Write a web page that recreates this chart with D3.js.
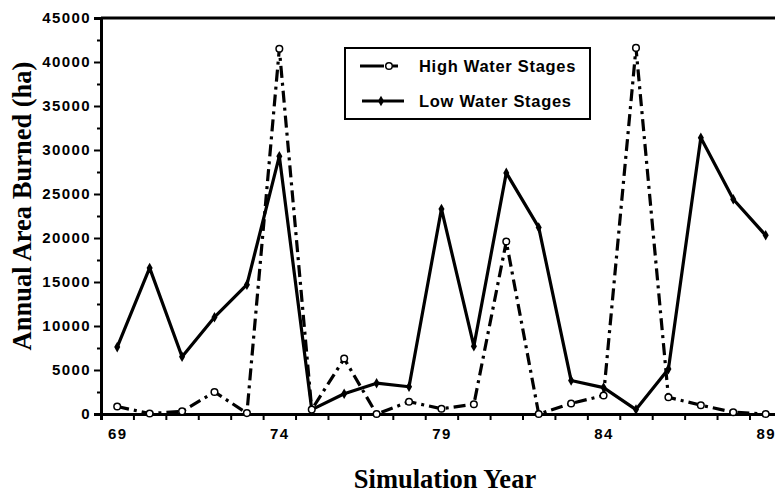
<!DOCTYPE html>
<html>
<head>
<meta charset="utf-8">
<script src="https://cdn.jsdelivr.net/npm/d3@7"></script>
<style>
  body { margin: 0; background: #fff; }
  svg { display: block; }
</style>
</head>
<body>
<div id="chart"></div>
<script>
// simulation years
var years = [69, 70, 71, 72, 73, 74, 75, 76, 77, 78, 79, 80, 81, 82, 83, 84, 85, 86, 87, 88, 89];
// annual area burned (ha)
var highWater = [850, 50, 300, 2500, 100, 41500, 500, 6300, 0, 1400, 600, 1100, 19600, 0, 1200, 2100, 41600, 1900, 1000, 200, 0];
var lowWater = [7600, 16600, 6500, 11000, 14700, 29300, 500, 2300, 3500, 3100, 23300, 7700, 27400, 21200, 3800, 3000, 500, 5100, 31400, 24400, 20300];
var yTicks = [0, 5000, 10000, 15000, 20000, 25000, 30000, 35000, 40000, 45000];
var xTickLabels = [69, 74, 79, 84, 89];

var chartW = 775, chartH = 492;
var plotLeft = 101, plotTop = 18, plotBottom = 414, plotRight = 790;
var sansFont = '"Liberation Sans", Arial, sans-serif';
var serifFont = '"Liberation Serif", "Times New Roman", serif';

var svg = d3.select('#chart').append('svg').attr('width', chartW).attr('height', chartH);

var x = d3.scaleLinear().domain([68.5, 89.75]).range([plotLeft, plotRight]);
var y = d3.scaleLinear().domain([0, 45000]).range([plotBottom, plotTop]);

// top frame
svg.append('line').attr('x1', plotLeft).attr('x2', chartW).attr('y1', plotTop).attr('y2', plotTop)
  .attr('stroke', '#000').attr('stroke-width', 3);

// y axis, major + minor ticks
svg.append('g').attr('transform', 'translate(' + plotLeft + ',0)')
  .call(d3.axisLeft(y).tickValues(yTicks).tickSize(7).tickPadding(3).tickFormat(d3.format('d')))
  .selectAll('.tick text')
  .attr('font-family', sansFont).attr('font-weight', 'bold').attr('font-size', 15).attr('letter-spacing', 1.4);
svg.append('g').attr('transform', 'translate(' + plotLeft + ',0)')
  .call(d3.axisLeft(y).tickValues(d3.range(2500, 45000, 5000)).tickSize(4).tickFormat(''))
  .select('.domain').remove();

// x axis: ticks at year boundaries, labels at year centres
svg.append('g').attr('transform', 'translate(0,' + plotBottom + ')')
  .call(d3.axisBottom(x).tickValues(d3.range(69.5, 90, 1)).tickSize(6).tickFormat(''));
svg.append('g').attr('transform', 'translate(0,' + plotBottom + ')')
  .call(d3.axisBottom(x).tickValues(xTickLabels).tickSize(0).tickPadding(14).tickFormat(d3.format('d')))
  .call(g => g.select('.domain').remove())
  .selectAll('.tick text')
  .attr('font-family', sansFont).attr('font-weight', 'bold').attr('font-size', 15).attr('letter-spacing', 1.4);

svg.selectAll('.domain').attr('stroke-width', 3);
svg.selectAll('.tick line').attr('stroke-width', 2);

// lines
var line = d3.line().x((d, i) => x(years[i])).y(d => y(d));

svg.append('path').datum(lowWater).attr('d', line)
  .attr('fill', 'none').attr('stroke', '#000').attr('stroke-width', 3.2).attr('stroke-linejoin', 'round');
svg.append('path').datum(highWater).attr('d', line)
  .attr('fill', 'none').attr('stroke', '#000').attr('stroke-width', 3.2)
  .attr('stroke-dasharray', '12,5,3,5');

// markers
var diamond = d3.symbol().type(d3.symbolDiamond).size(32);
svg.selectAll('.low').data(lowWater).enter().append('path')
  .attr('class', 'low').attr('d', diamond)
  .attr('transform', (d, i) => 'translate(' + x(years[i]) + ',' + y(d) + ')')
  .attr('fill', '#000');
svg.selectAll('.high').data(highWater).enter().append('circle')
  .attr('class', 'high').attr('cx', (d, i) => x(years[i])).attr('cy', d => y(d)).attr('r', 3.3)
  .attr('fill', '#fff').attr('stroke', '#000').attr('stroke-width', 1.5);

// legend
var lg = svg.append('g');
lg.append('rect').attr('x', 345).attr('y', 48).attr('width', 245).attr('height', 71)
  .attr('fill', '#fff').attr('stroke', '#000').attr('stroke-width', 2);
lg.append('line').attr('x1', 360).attr('x2', 384).attr('y1', 66).attr('y2', 66)
  .attr('stroke', '#000').attr('stroke-width', 3);
lg.append('line').attr('x1', 393).attr('x2', 398).attr('y1', 66).attr('y2', 66)
  .attr('stroke', '#000').attr('stroke-width', 3);
lg.append('circle').attr('cx', 389).attr('cy', 66).attr('r', 3.3)
  .attr('fill', '#fff').attr('stroke', '#000').attr('stroke-width', 1.5);
lg.append('line').attr('x1', 362).attr('x2', 404).attr('y1', 101).attr('y2', 101)
  .attr('stroke', '#000').attr('stroke-width', 3);
lg.append('path').attr('d', diamond).attr('transform', 'translate(381,101)').attr('fill', '#000');
lg.selectAll('text').data(['High Water Stages', 'Low Water Stages']).enter().append('text')
  .attr('x', 419).attr('y', (d, i) => i ? 107 : 72)
  .attr('font-family', sansFont).attr('font-weight', 'bold')
  .attr('font-size', 16.5).attr('letter-spacing', 0.7)
  .text(d => d);

// axis titles
svg.append('text').attr('x', 445).attr('y', 488).attr('text-anchor', 'middle')
  .attr('font-family', serifFont).attr('font-weight', 'bold')
  .attr('font-size', 26.5).text('Simulation Year');
svg.append('text').attr('transform', 'translate(31,206) rotate(-90)').attr('text-anchor', 'middle')
  .attr('font-family', serifFont).attr('font-weight', 'bold')
  .attr('font-size', 26.5).text('Annual Area Burned (ha)');
</script>
</body>
</html>
